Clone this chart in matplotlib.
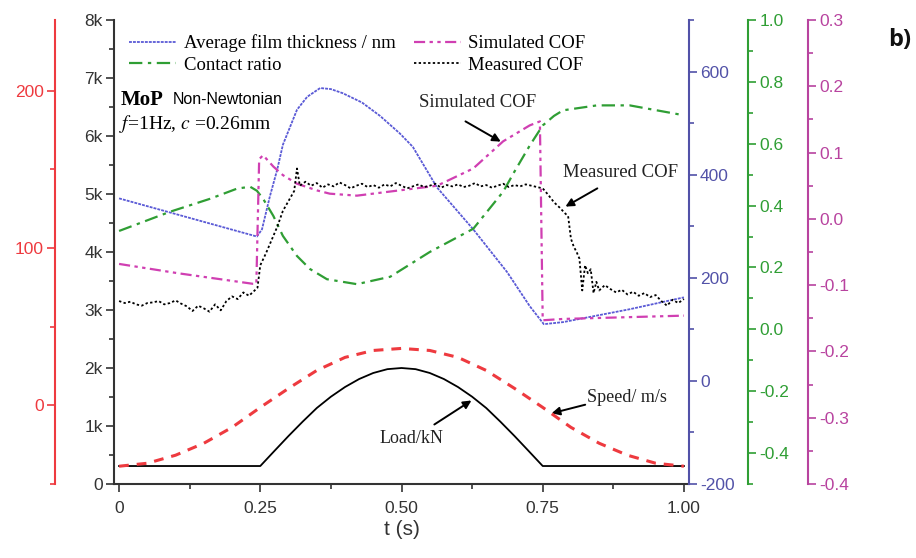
#MoP non-Newtonian run: film thickness, contact ratio and COF over one cycle
import matplotlib
matplotlib.use('Agg')
import matplotlib.pyplot as plt
from matplotlib.ticker import MultipleLocator, FuncFormatter

plt.rcParams['font.family'] = ['Liberation Sans', 'DejaVu Sans']
plt.rcParams['mathtext.fontset'] = 'stix'

# colours
cRed = '#ee3a3f'
cBlue = '#5252a8'
cGreen = '#2f9e34'
cPurple = '#b8439f'

# film thickness / nm (blue axis)
film_t = [0.0, 0.244, 0.253, 0.267, 0.280, 0.290, 0.315, 0.333, 0.356, 0.375, 0.396, 0.430,
          0.462, 0.497, 0.520, 0.563, 0.627, 0.687, 0.727, 0.752, 0.786, 0.904, 1.0]
film_nm = [354, 280, 294, 358, 410, 458, 526, 551, 568, 566, 558, 540,
           514, 480, 454, 375, 294, 211, 145, 110, 114, 139, 162]

# contact ratio (green axis)
contact_t = [0.0, 0.09, 0.161, 0.209, 0.232, 0.244, 0.255, 0.273, 0.290, 0.315, 0.338,
             0.368, 0.421, 0.48, 0.550, 0.627, 0.680, 0.700, 0.727, 0.750, 0.770, 0.786,
             0.846, 0.904, 1.0]
contact = [0.318, 0.380, 0.422, 0.455, 0.461, 0.448, 0.422, 0.367, 0.302, 0.237, 0.195,
           0.162, 0.146, 0.170, 0.250, 0.325, 0.445, 0.510, 0.594, 0.659, 0.690, 0.708,
           0.724, 0.724, 0.692]

# simulated COF (purple axis)
sim_t = [0.0, 0.104, 0.237, 0.243, 0.248, 0.255, 0.273, 0.290, 0.315, 0.350, 0.373,
         0.421, 0.563, 0.627, 0.680, 0.727, 0.745, 0.750, 0.786, 1.0]
sim_cof = [-0.068, -0.082, -0.098, -0.098, 0.090, 0.096, 0.079, 0.066, 0.053, 0.043, 0.038,
           0.035, 0.050, 0.076, 0.117, 0.141, 0.147, -0.153, -0.151, -0.146]

# measured COF (purple axis)
meas_t = [0.0, 0.01, 0.02, 0.03, 0.04, 0.05, 0.06, 0.07, 0.08, 0.09,
          0.10, 0.11, 0.12, 0.13, 0.14, 0.15, 0.16, 0.17, 0.18, 0.19,
          0.20, 0.21, 0.22, 0.23, 0.24, 0.245, 0.25, 0.26, 0.27, 0.28,
          0.29, 0.30, 0.31, 0.315, 0.32,
          0.33, 0.34, 0.35, 0.36, 0.37, 0.38, 0.39, 0.40, 0.41, 0.42,
          0.43, 0.44, 0.45, 0.46, 0.47, 0.48, 0.49, 0.50, 0.51, 0.52,
          0.53, 0.54, 0.55, 0.56, 0.57, 0.58, 0.59, 0.60, 0.61, 0.62,
          0.63, 0.64, 0.65, 0.66, 0.67, 0.68, 0.69, 0.70, 0.71, 0.72,
          0.73, 0.74,
          0.75, 0.76, 0.77, 0.78, 0.79, 0.795, 0.80, 0.805, 0.81, 0.815,
          0.82, 0.825, 0.83, 0.835, 0.84, 0.845, 0.85, 0.86, 0.87, 0.88,
          0.89, 0.90, 0.91, 0.92, 0.93, 0.94, 0.95, 0.96, 0.97, 0.98,
          0.99, 1.0]
meas_cof = [-0.124, -0.127, -0.125, -0.129, -0.131, -0.127, -0.126, -0.124, -0.129, -0.127,
            -0.123, -0.128, -0.132, -0.139, -0.131, -0.135, -0.140, -0.129, -0.138, -0.124,
            -0.117, -0.121, -0.111, -0.116, -0.108, -0.104, -0.070, -0.052, -0.032, -0.012,
            0.012, 0.027, 0.042, 0.076, 0.050,
            0.056, 0.050, 0.054, 0.047, 0.052, 0.049, 0.055, 0.051, 0.046, 0.050,
            0.053, 0.048, 0.051, 0.047, 0.052, 0.049, 0.054, 0.050, 0.046, 0.049,
            0.052, 0.048, 0.050, 0.053, 0.047, 0.051, 0.049, 0.052, 0.048, 0.050,
            0.054, 0.049, 0.051, 0.047, 0.050, 0.053, 0.048, 0.051, 0.049, 0.052,
            0.050, 0.048,
            0.046, 0.036, 0.025, 0.017, 0.008, 0.004, -0.030, -0.042, -0.050, -0.060,
            -0.108, -0.070, -0.082, -0.076, -0.112, -0.095, -0.108, -0.100, -0.106, -0.111,
            -0.107, -0.114, -0.110, -0.116, -0.112, -0.118, -0.115, -0.124, -0.131, -0.122,
            -0.127, -0.121]

# speed (red axis)
speed_t = [0.0, 0.05, 0.10, 0.15, 0.20, 0.25, 0.30, 0.35, 0.40, 0.45, 0.50,
           0.55, 0.60, 0.65, 0.70, 0.75, 0.80, 0.85, 0.90, 0.95, 1.0]
speed = [-38.7, -36.8, -31.7, -24.1, -14.0, -1.3, 10.8, 22.2, 30.5, 34.9, 36.2,
         34.9, 30.5, 22.2, 10.8, -1.3, -14.0, -24.1, -31.7, -36.8, -38.7]

# load / kN (left axis)
load_t = [0.0, 0.25, 0.275, 0.30, 0.325, 0.35, 0.375, 0.40, 0.425, 0.45, 0.475, 0.50,
          0.525, 0.55, 0.575, 0.60, 0.625, 0.65, 0.675, 0.70, 0.725, 0.75, 1.0]
load = [310, 310, 570, 828, 1075, 1310, 1505, 1672, 1810, 1914, 1980, 2000,
        1980, 1914, 1810, 1672, 1505, 1310, 1075, 828, 570, 310, 310]

xticks = [0, 0.25, 0.5, 0.75, 1.0]
xticklabels = ['0', '0.25', '0.50', '0.75', '1.00']

serif = 'Liberation Serif'
tickfs = 12.5


def styleAxis(a, color, side, major, minor, fmt):
    a.yaxis.set_major_locator(MultipleLocator(major))
    a.yaxis.set_minor_locator(MultipleLocator(minor))
    a.yaxis.set_major_formatter(FuncFormatter(fmt))
    a.tick_params(axis='y', which='major', direction='out', length=6, width=1.2,
                  colors=color, labelsize=tickfs, pad=2)
    a.tick_params(axis='y', which='minor', direction='out', length=3.5, width=1.2, colors=color)
    for s in ['top', 'bottom', 'left', 'right']:
        a.spines[s].set_visible(False)
    a.spines[side].set_visible(True)
    a.spines[side].set_color(color)
    a.spines[side].set_linewidth(1.5)
    a.yaxis.set_ticks_position(side)
    a.yaxis.set_label_position(side)


fig = plt.figure(figsize=(9.16, 5.58), dpi=100)
ax = fig.add_axes([114 / 916, 1 - 484 / 558, 575 / 916, 464 / 558])

# left axis (k)
ax.plot(load_t, load, color='k', lw=1.3)
ax.set_xlim(-0.009, 1.009)
ax.set_ylim(0, 8000)
ax.set_xticks(xticks)
ax.set_xticklabels(xticklabels)
ax.xaxis.set_minor_locator(MultipleLocator(0.125))
ax.tick_params(axis='x', which='major', direction='out', length=6, width=1.2,
               labelsize=tickfs, colors='#333333', pad=6)
ax.tick_params(axis='x', which='minor', direction='out', length=3.5, width=1.2, colors='#333333')
styleAxis(ax, '#333333', 'left', 1000, 500,
          lambda v, p: '0' if v == 0 else '%dk' % (v / 1000))
ax.spines['bottom'].set_visible(True)
ax.spines['bottom'].set_color('#333333')
ax.spines['bottom'].set_linewidth(1.5)
ax.set_xlabel('t (s)', fontsize=15, color='#333333', labelpad=3)

# red axis (speed)
axR = ax.twinx()
axR.plot(speed_t, speed, color=cRed, lw=2.2, ls=(0, (3.2, 2.6)))
axR.set_ylim(-50, 245)
styleAxis(axR, cRed, 'left', 100, 50, lambda v, p: '%d' % v)
axR.spines['left'].set_position(('axes', -0.1026))

# blue axis (film thickness)
axB = ax.twinx()
lFilm, = axB.plot(film_t, film_nm, color='#5a5ad6', lw=1.3, ls=(0, (1.6, 0.6)))
axB.set_ylim(-200, 700)
styleAxis(axB, cBlue, 'right', 200, 100, lambda v, p: '%d' % v)

# green axis (contact ratio)
axG = ax.twinx()
lCont, = axG.plot(contact_t, contact, color=cGreen, lw=1.6, ls=(0, (6, 2.5, 1.5, 2.5)))
axG.set_ylim(-0.5, 1.0)
styleAxis(axG, cGreen, 'right', 0.2, 0.1, lambda v, p: '%.1f' % v)
axG.spines['right'].set_position(('axes', 1.103))

# purple axis (COF)
axP = ax.twinx()
lSim, = axP.plot(sim_t, sim_cof, color='#d03fb2', lw=1.6,
                 ls=(0, (5, 2, 1.5, 2, 1.5, 2)))
lMeas, = axP.plot(meas_t, meas_cof, color='k', lw=1.3, ls=(0, (1.3, 1.3)))
axP.set_ylim(-0.4, 0.3)
styleAxis(axP, cPurple, 'right', 0.1, 0.05, lambda v, p: '%.1f' % v)
axP.spines['right'].set_position(('axes', 1.207))

axP.legend([lFilm, lCont, lSim, lMeas],
           ['Average film thickness / nm', 'Contact ratio', 'Simulated COF', 'Measured COF'],
           loc='upper left', bbox_to_anchor=(-0.003, 1.005), ncol=2, frameon=False,
           prop={'family': serif, 'size': 13.5}, handlelength=2.5, handletextpad=0.4,
           columnspacing=1.0, labelspacing=0.22)

# labels in the plot
axP.text(0.012, 0.828, 'MoP', transform=ax.transAxes, family=serif, weight='bold',
         fontsize=15, va='center', ha='left')
axP.text(0.103, 0.828, 'Non-Newtonian', transform=ax.transAxes, fontsize=11.5,
         va='center', ha='left')
axP.text(0.008, 0.776, r'$f$=1Hz, $c$ =0.26mm', transform=ax.transAxes, family=serif,
         fontsize=14, va='center', ha='left')

arrow = dict(arrowstyle='-|>', color='k', lw=1.4, mutation_scale=12)
ax.annotate('', xy=(0.680, 5879), xytext=(0.609, 6276), arrowprops=arrow)
ax.text(0.635, 6570, 'Simulated COF', family=serif, fontsize=13.5, ha='center', va='center',
        color='#222222')
ax.annotate('', xy=(0.786, 4759), xytext=(0.851, 5121), arrowprops=arrow)
ax.text(0.888, 5379, 'Measured COF', family=serif, fontsize=13.5, ha='center', va='center',
        color='#222222')
ax.annotate('', xy=(0.761, 1207), xytext=(0.830, 1379), arrowprops=arrow)
ax.text(0.899, 1500, 'Speed/ m/s', family=serif, fontsize=13, ha='center', va='center',
        color='#222222')
ax.annotate('', xy=(0.628, 1466), xytext=(0.554, 1000), arrowprops=arrow)
ax.text(0.517, 793, 'Load/kN', family=serif, fontsize=13, ha='center', va='center',
        color='#222222')

fig.text(888 / 916, 1 - 40 / 558, 'b)', fontsize=17, weight='bold', family='Open Sans',
         ha='left', va='center', color='#111111')

fig.savefig('out.png', dpi=100)
plt.close()
